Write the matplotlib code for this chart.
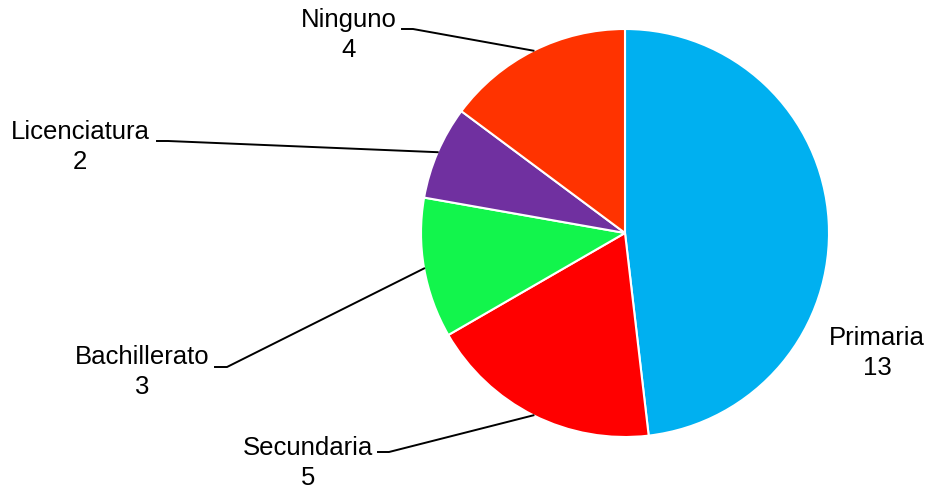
import matplotlib.pyplot as plt
import numpy as np

# data
categories = ["Primaria", "Secundaria", "Bachillerato", "Licenciatura", "Ninguno"]
counts = [13, 5, 3, 2, 4]
colors = ["#00B0F0", "#FF0000", "#12F54C", "#7030A0", "#FF3300"]

# layout (pixel coords, y down)
cx, cy, r = 625, 233, 204
label_pos = [(877, 353), (308, 463), (142, 372), (80, 147), (349, 35)]
# horizontal stub of the leader line: (x0, x1, y) or None
stubs = [None, (378, 389, 452), (215, 227, 367), (157, 168, 141), (402, 413, 29)]

plt.rcParams['font.family'] = ['Liberation Sans', 'DejaVu Sans']

fig = plt.figure(figsize=(9.31, 4.92), dpi=100)
ax = fig.add_axes([0, 0, 1, 1])

wedges, _ = ax.pie(counts, colors=colors, center=(cx, cy), radius=r,
                   startangle=-90, counterclock=True, frame=False,
                   wedgeprops=dict(edgecolor='white', linewidth=1.5))
ax.set_xlim(0, 931)
ax.set_ylim(492, 0)
ax.axis('off')

for w, name, val, (tx, ty), stub in zip(wedges, categories, counts, label_pos, stubs):
    ax.text(tx, ty, f"{name}\n{val}", ha='center', va='center',
            fontsize=18.5, linespacing=1.28, color='black')
    if stub:
        mid = np.deg2rad((w.theta1 + w.theta2) / 2)
        px = cx + r * np.cos(mid)
        py = cy + r * np.sin(mid)
        x0, x1, sy = stub
        ax.plot([x0, x1, px], [sy, sy, py], color='black', lw=1.4,
                solid_joinstyle='miter')

fig.savefig("out.png", dpi=100)
